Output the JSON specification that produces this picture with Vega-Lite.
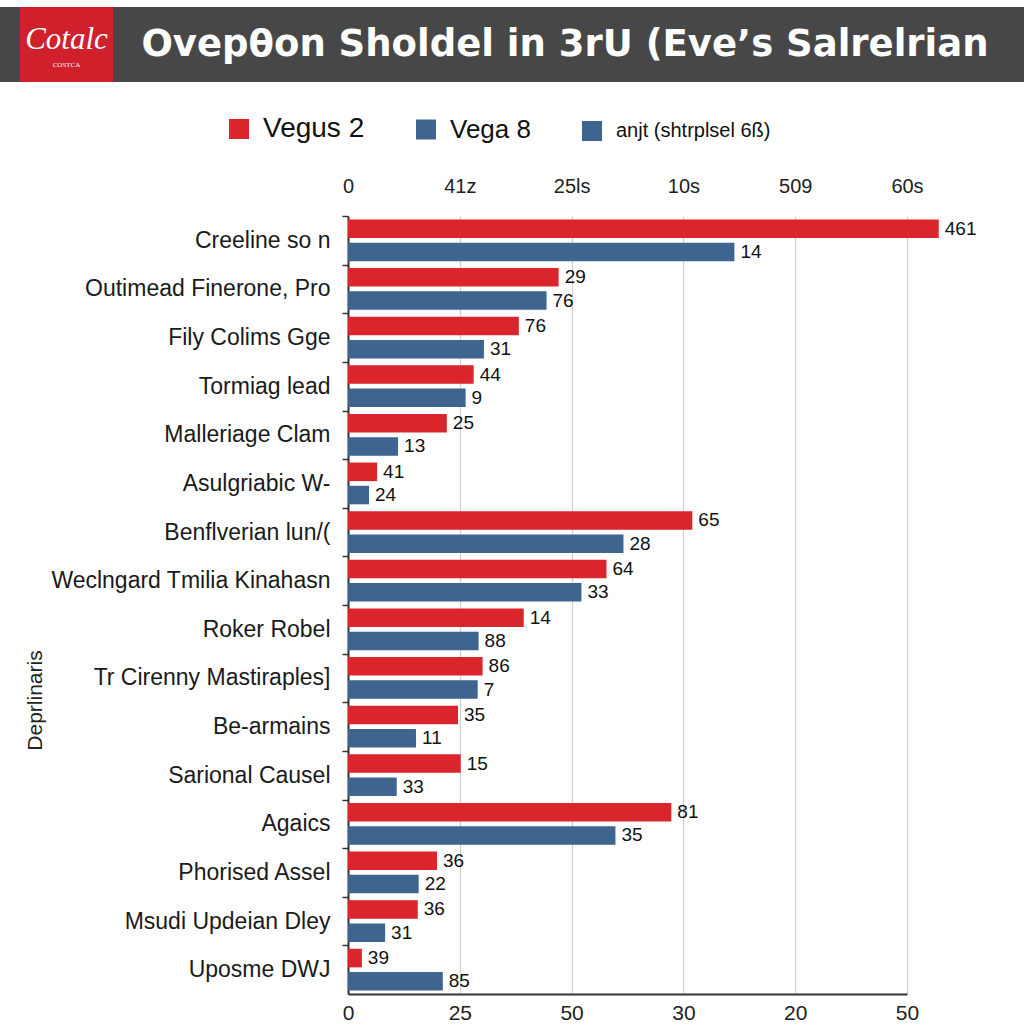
{
  "$schema": "https://vega.github.io/schema/vega-lite/v6.json",
  "background": "#ffffff",
  "padding": {"left": 0, "top": 7, "right": 0, "bottom": 0},
  "config": {"view": {"stroke": null}, "font": "Liberation Sans"},
  "columns": 2,
  "bounds": "flush",
  "spacing": {"row": 134, "column": 0},
  "concat": [
    {
      "spacing": 0,
      "hconcat": [
        {
          "width": 20, "height": 75,
          "view": {"fill": "#474747", "stroke": null},
          "data": {"values": [{"t": ""}]},
          "mark": {"type": "text"},
          "encoding": {"text": {"field": "t"}}
        },
        {
          "width": 93, "height": 75,
          "view": {"fill": "#d0202b", "stroke": null},
          "data": {"values": [{"logo": "Cotalc", "sub": "COSTCA"}]},
          "layer": [
            {"mark": {"type": "text", "font": "Liberation Serif", "fontStyle": "italic", "fontSize": 31, "color": "#ffffff", "dy": -5}, "encoding": {"text": {"field": "logo"}}},
            {"mark": {"type": "text", "font": "Liberation Serif", "fontSize": 7, "color": "#ffffff", "dy": 20}, "encoding": {"text": {"field": "sub"}}}
          ]
        },
        {
          "width": 235, "height": 75,
          "view": {"fill": "#474747", "stroke": null},
          "data": {"values": [{"t": ""}]},
          "mark": {"type": "text"},
          "encoding": {"text": {"field": "t"}}
        }
      ]
    },
    {
      "width": 676,
      "height": 75,
      "view": {"fill": "#474747", "stroke": null},
      "data": {"values": [{"t": "Ovepθon Sholdel in 3rU (Eve’s Salrelrian"}]},
      "mark": {"type": "text", "font": "DejaVu Sans", "fontWeight": "bold", "fontSize": 37, "color": "#ffffff", "dx": -121, "dy": 0},
      "encoding": {"text": {"field": "t"}}
    },
    {
      "width": 348, "height": 778,
      "data": {"values": [{"t": ""}]},
      "mark": {"type": "text"},
      "encoding": {"text": {"field": "t"}}
    },
    {
      "width": 559,
      "height": 778,
      "data": {"values": [
        {"category": "Creeline so n", "series": "Vegus 2", "value": 132.1, "label": "461"},
        {"category": "Creeline so n", "series": "Vega 8", "value": 86.4, "label": "14"},
        {"category": "Outimead Finerone, Pro", "series": "Vegus 2", "value": 47.1, "label": "29"},
        {"category": "Outimead Finerone, Pro", "series": "Vega 8", "value": 44.4, "label": "76"},
        {"category": "Fily Colims Gge", "series": "Vegus 2", "value": 38.2, "label": "76"},
        {"category": "Fily Colims Gge", "series": "Vega 8", "value": 30.4, "label": "31"},
        {"category": "Tormiag lead", "series": "Vegus 2", "value": 28.1, "label": "44"},
        {"category": "Tormiag lead", "series": "Vega 8", "value": 26.3, "label": "9"},
        {"category": "Malleriage Clam", "series": "Vegus 2", "value": 22.1, "label": "25"},
        {"category": "Malleriage Clam", "series": "Vega 8", "value": 11.2, "label": "13"},
        {"category": "Asulgriabic W-", "series": "Vegus 2", "value": 6.5, "label": "41"},
        {"category": "Asulgriabic W-", "series": "Vega 8", "value": 4.7, "label": "24"},
        {"category": "Benflverian lun/(", "series": "Vegus 2", "value": 77.0, "label": "65"},
        {"category": "Benflverian lun/(", "series": "Vega 8", "value": 61.6, "label": "28"},
        {"category": "Weclngard Tmilia Kinahasn", "series": "Vegus 2", "value": 57.8, "label": "64"},
        {"category": "Weclngard Tmilia Kinahasn", "series": "Vega 8", "value": 52.2, "label": "33"},
        {"category": "Roker Robel", "series": "Vegus 2", "value": 39.3, "label": "14"},
        {"category": "Roker Robel", "series": "Vega 8", "value": 29.2, "label": "88"},
        {"category": "Tr Cirenny Mastiraples]", "series": "Vegus 2", "value": 30.1, "label": "86"},
        {"category": "Tr Cirenny Mastiraples]", "series": "Vega 8", "value": 29.0, "label": "7"},
        {"category": "Be-armains", "series": "Vegus 2", "value": 24.6, "label": "35"},
        {"category": "Be-armains", "series": "Vega 8", "value": 15.2, "label": "11"},
        {"category": "Sarional Causel", "series": "Vegus 2", "value": 25.2, "label": "15"},
        {"category": "Sarional Causel", "series": "Vega 8", "value": 10.9, "label": "33"},
        {"category": "Agaics", "series": "Vegus 2", "value": 72.3, "label": "81"},
        {"category": "Agaics", "series": "Vega 8", "value": 59.8, "label": "35"},
        {"category": "Phorised Assel", "series": "Vegus 2", "value": 19.9, "label": "36"},
        {"category": "Phorised Assel", "series": "Vega 8", "value": 15.8, "label": "22"},
        {"category": "Msudi Updeian Dley", "series": "Vegus 2", "value": 15.6, "label": "36"},
        {"category": "Msudi Updeian Dley", "series": "Vega 8", "value": 8.3, "label": "31"},
        {"category": "Uposme DWJ", "series": "Vegus 2", "value": 3.1, "label": "39"},
        {"category": "Uposme DWJ", "series": "Vega 8", "value": 21.2, "label": "85"}
      ]},
      "encoding": {
        "y": {
          "field": "category", "type": "nominal", "sort": null,
          "scale": {"paddingInner": 0.14, "paddingOuter": 0.07},
          "axis": {
            "title": "Deprlinaris", "titleFont": "Liberation Sans", "titleFontSize": 21, "titleFontWeight": "normal", "titleColor": "#222222",
            "titleX": -313, "titleY": 484, "titleAngle": -90, "titleAlign": "center", "titleBaseline": "middle",
            "labelFont": "Liberation Sans", "labelFontSize": 23, "labelColor": "#1a1a1a", "labelPadding": 12, "labelLimit": 400,
            "tickSize": 6, "tickColor": "#333333", "tickWidth": 1.5,
            "domainColor": "#333333", "domainWidth": 2,
            "bandPosition": 0, "tickOffset": -3.4, "labelOffset": 3.4, "grid": false
          }
        },
        "yOffset": {"field": "series", "type": "nominal", "sort": ["Vegus 2", "Vega 8"], "scale": {"paddingInner": 0.2}},
        "x": {"field": "value", "type": "quantitative", "scale": {"domain": [0, 125], "nice": false, "zero": true}}
      },
      "layer": [
        {
          "mark": {"type": "bar"},
          "encoding": {
            "x": {
              "field": "value", "type": "quantitative",
              "axis": {
                "orient": "bottom", "title": null, "values": [0, 25, 50, 75, 100, 125],
                "labelExpr": "datum.value == 0 ? '0' : datum.value == 25 ? '25' : datum.value == 50 ? '50' : datum.value == 75 ? '30' : datum.value == 100 ? '20' : '50'",
                "grid": true, "gridColor": "#cfcfcf", "gridWidth": 1.2, "ticks": false,
                "domainColor": "#333333", "domainWidth": 2,
                "labelFont": "Liberation Sans", "labelFontSize": 21, "labelColor": "#222222", "labelPadding": 8, "labelFlush": false
              }
            },
            "color": {
              "field": "series", "type": "nominal",
              "scale": {"domain": ["Vegus 2", "Vega 8", "anjt (shtrplsel 6ß)"], "range": ["#d9252b", "#3e6590", "#3e6590"]},
              "legend": {
                "orient": "none", "legendX": 225, "legendY": 108, "direction": "horizontal", "columns": 3,
                "title": null, "symbolType": "square", "symbolSize": 400, "symbolStrokeWidth": 0, "symbolOpacity": 1,
                "labelFont": "Liberation Sans", "labelFontSize": 28, "labelColor": "#111111", "labelOffset": 10,
                "columnPadding": 47, "padding": 0, "labelLimit": 400,
                "encode": {"labels": {"update": {"fontSize": {"signal": "datum.value == 'anjt (shtrplsel 6ß)' ? 20 : datum.value == 'Vega 8' ? 26 : 28"}}}}
              }
            }
          }
        },
        {
          "mark": {"type": "text", "align": "left", "baseline": "middle", "dx": 6, "fontSize": 19, "font": "Liberation Sans", "color": "#111111"},
          "encoding": {
            "x": {
              "field": "value", "type": "quantitative",
              "axis": {
                "orient": "top", "title": null, "values": [0, 25, 50, 75, 100, 125],
                "labelExpr": "datum.value == 0 ? '0' : datum.value == 25 ? '41z' : datum.value == 50 ? '25ls' : datum.value == 75 ? '10s' : datum.value == 100 ? '509' : '60s'",
                "grid": false, "ticks": false, "domain": false,
                "labelFont": "Liberation Sans", "labelFontSize": 20, "labelColor": "#222222", "labelPadding": 20, "labelFlush": false
              }
            },
            "text": {"field": "label"}
          }
        }
      ],
      "resolve": {"axis": {"x": "independent"}}
    }
  ]
}
